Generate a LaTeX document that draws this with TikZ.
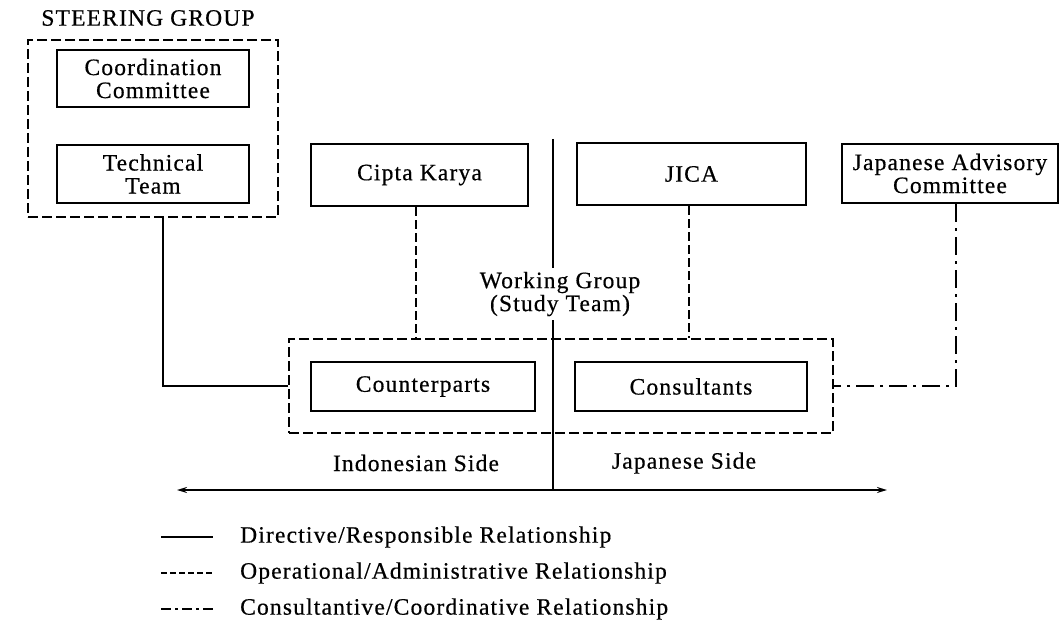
\documentclass[tikz,border=0pt]{standalone}
\usepackage{fontspec}
\setmainfont{Liberation Serif}[LetterSpace=5,FakeBold=0.5]
\usetikzlibrary{arrows.meta}
\begin{document}
\begin{tikzpicture}[x=1pt,y=-1pt,
  every node/.style={font=\fontsize{23.5}{23}\selectfont, align=center, inner sep=0pt},
  box/.style={draw, line width=2pt},
  grp/.style={draw, line width=1.7pt, dash pattern=on 10pt off 4pt},
  solidc/.style={line width=1.7pt},
  dashc/.style={line width=2pt, dash pattern=on 9pt off 4pt},
  dotc/.style={line width=1.7pt, dash pattern=on 18pt off 6pt on 3pt off 6pt},
  legsolid/.style={line width=1.3pt},
  legdash/.style={line width=1.3pt, dash pattern=on 6pt off 3pt},
  legdot/.style={line width=1.3pt, dash pattern=on 10pt off 4pt on 3pt off 4pt},
  leg/.style={anchor=west}]
\useasboundingbox (0,0) rectangle (1063,623);
% steering group
\node[grp, minimum width=250pt, minimum height=177pt] (steer) at (153,128.5) {};
\node (steerlbl) at (148,18) {STEERING GROUP};
\node[box, minimum width=192pt, minimum height=57pt] (coord) at (153,78.5) {Coordination\\Committee};
\node[box, minimum width=192pt, minimum height=58pt] (tech) at (153,174) {Technical\\Team};
% top boxes
\node[box, minimum width=217pt, minimum height=62pt] (cipta) at (419.5,175) {Cipta Karya};
\node[box, minimum width=229pt, minimum height=62pt] (jica) at (691.5,174) {JICA};
\node[box, minimum width=216pt, minimum height=59pt] (jac) at (950,173.5) {Japanese Advisory\\Committee};
% working group
\node[grp, minimum width=544pt, minimum height=94pt] (work) at (561,386) {};
\node[box, minimum width=224pt, minimum height=49pt] (cp) at (423,386.5) {Counterparts};
\node[box, minimum width=232pt, minimum height=49pt] (cons) at (691,386.5) {Consultants};
\node (wg) at (560,294) {Working Group\\(Study Team)};
% centre divider and side arrow
\coordinate (ctop) at (553,139);
\coordinate (cbot) at (553,490);
\coordinate (aL) at (177,490);
\coordinate (aR) at (887,490);
\draw[solidc] (ctop) -- ([yshift=4pt]wg.north -| ctop);
\draw[solidc] ([yshift=-4pt]wg.south -| ctop) -- (cbot);
\draw[solidc, {Stealth[length=10pt,width=6pt]}-{Stealth[length=10pt,width=6pt]}] (aL) -- (aR);
\node (ind) at (416,463) {Indonesian Side};
\node (jap) at (684,463) {Japanese Side};
% connectors
\draw[solidc] ([xshift=10pt]steer.south) |- (work.west);
\draw[dashc] ([xshift=-4pt]cipta.south) -- ([xshift=-4pt]cipta.south |- work.north);
\draw[dashc] ([xshift=-3pt]jica.south) -- ([xshift=-3pt]jica.south |- work.north);
\draw[dotc] ([xshift=6pt]jac.south) |- (work.east);
% legend
\node[leg] (l1) at (240,537) {Directive/Responsible Relationship};
\node[leg] (l2) at (240,573) {Operational/Administrative Relationship};
\node[leg] (l3) at (240,609) {Consultantive/Coordinative Relationship};
\draw[legsolid] ([xshift=-79pt]l1.west) -- ([xshift=-27pt]l1.west);
\draw[legdash] ([xshift=-79pt]l2.west) -- ([xshift=-27pt]l2.west);
\draw[legdot] ([xshift=-79pt]l3.west) -- ([xshift=-27pt]l3.west);
\end{tikzpicture}
\end{document}
